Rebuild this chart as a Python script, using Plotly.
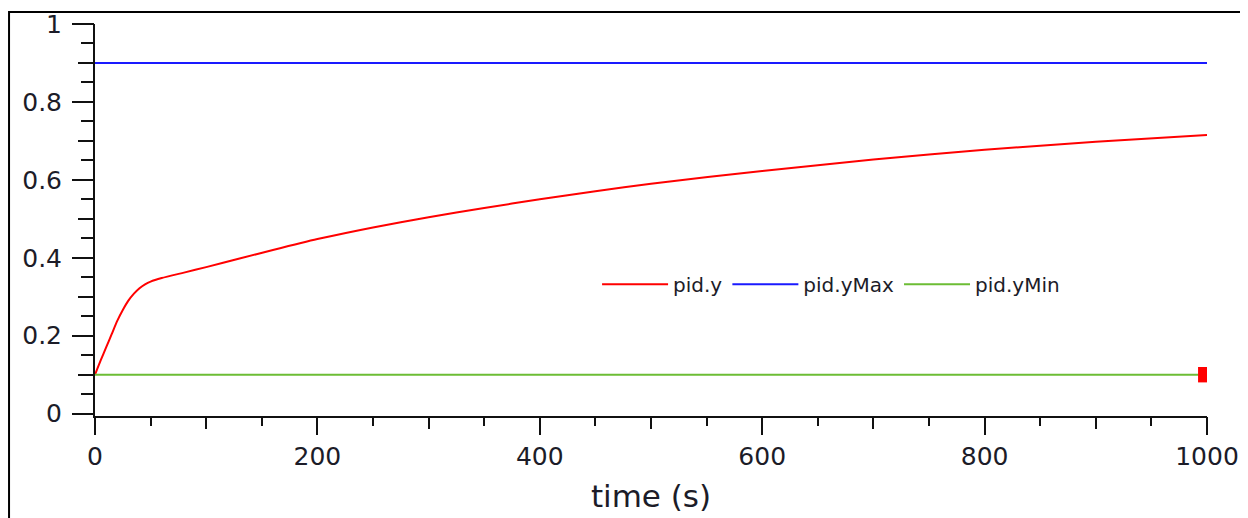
import plotly.graph_objects as go

# ---- data ----
time_y = [0, 5, 10, 15, 20, 25, 30, 35, 40, 45, 50, 60, 80, 100, 130, 160, 200, 250,
          300, 350, 400, 450, 500, 600, 700, 800, 900, 1000]
pid_y = [0.1, 0.136, 0.17, 0.204, 0.238, 0.266, 0.29, 0.308, 0.322, 0.332, 0.339, 0.348,
         0.362, 0.376, 0.398, 0.42, 0.448, 0.478, 0.504, 0.528, 0.55, 0.571, 0.59, 0.623,
         0.652, 0.677, 0.698, 0.715]
time_lim = [0, 1000]
pid_yMax = [0.9, 0.9]
pid_yMin = [0.1, 0.1]
cursor_x = [996]
cursor_y = [0.1]

x_ticks = [0, 200, 400, 600, 800, 1000]
y_ticks = [0, 0.2, 0.4, 0.6, 0.8, 1]

FONT = "DejaVu Sans"
TXT = "#1c1c28"
AX = "#111111"

fig = go.Figure()
fig.add_trace(go.Scatter(x=time_y, y=pid_y, mode="lines", name="pid.y",
                         line=dict(color="#ff0000", width=2, shape="spline", smoothing=0.6)))
fig.add_trace(go.Scatter(x=time_lim, y=pid_yMax, mode="lines", name="pid.yMax",
                         line=dict(color="#1a1aff", width=2)))
fig.add_trace(go.Scatter(x=time_lim, y=pid_yMin, mode="lines", name="pid.yMin",
                         line=dict(color="#6cbd35", width=2)))
fig.add_trace(go.Scatter(x=cursor_x, y=cursor_y, mode="markers", showlegend=False,
                         marker=dict(symbol="line-ns", size=11,
                                     line=dict(width=9, color="#ff0000"))))

fig.update_layout(
    width=1248, height=518,
    margin=dict(l=87, r=49, t=16, b=110),
    paper_bgcolor="white", plot_bgcolor="white",
    font=dict(family=FONT, color=TXT),
    showlegend=True,
    legend=dict(orientation="h", x=0.4515, y=0.336, xanchor="left", yanchor="middle",
                font=dict(size=20, family=FONT, color=TXT),
                bgcolor="rgba(0,0,0,0)", itemwidth=66, tracegroupgap=0),
    xaxis=dict(range=[0, 1000], tickvals=x_ticks, ticks="outside", ticklen=17,
               tickwidth=2, tickcolor=AX, showline=True, linewidth=2, linecolor=AX,
               showgrid=False, zeroline=False, ticklabelstandoff=0, automargin=False,
               tickfont=dict(size=25, family=FONT, color=TXT),
               minor=dict(dtick=50, ticks="outside", ticklen=8, tickwidth=2, tickcolor=AX,
                          showgrid=False),
               title=dict(text="time (s)", font=dict(size=31, family=FONT, color=TXT),
                          standoff=15)),
    xaxis2=dict(range=[0, 1000], overlaying="x", anchor="y", side="bottom", automargin=False,
                dtick=100, tick0=0, ticks="outside", ticklen=12, tickwidth=2, tickcolor=AX,
                showticklabels=False, showgrid=False, zeroline=False, showline=False),
    yaxis=dict(range=[-0.006, 1], tickvals=y_ticks, ticktext=["0", "0.2", "0.4", "0.6", "0.8", "1"],
               ticks="outside", ticklen=21, tickwidth=2, tickcolor=AX, automargin=False,
               showline=True, linewidth=2, linecolor=AX, showgrid=False, zeroline=False,
               ticklabelstandoff=5,
               tickfont=dict(size=25, family=FONT, color=TXT),
               minor=dict(dtick=0.05, tick0=0, ticks="outside", ticklen=12, tickwidth=2,
                          tickcolor=AX, showgrid=False)),
    yaxis2=dict(range=[-0.006, 1], overlaying="y", anchor="x", side="left", automargin=False,
                dtick=0.1, tick0=0, ticks="outside", ticklen=16, tickwidth=2, tickcolor=AX,
                showticklabels=False, showgrid=False, zeroline=False, showline=False),
)

# invisible trace to activate the overlay axes
fig.add_trace(go.Scatter(x=[None], y=[None], xaxis="x2", yaxis="y2", showlegend=False,
                         hoverinfo="skip"))

# outer frame
fig.add_shape(type="rect", xref="paper", yref="paper",
              x0=-0.0773, x1=1.0348, y0=-0.3, y1=1.0306,
              line=dict(color="#000000", width=2), fillcolor="rgba(0,0,0,0)", layer="above")

fig.write_html("out.html")
